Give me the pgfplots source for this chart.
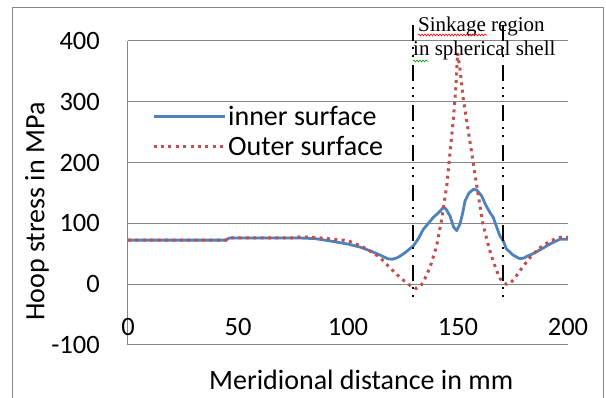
\documentclass[border=0pt]{standalone}
\usepackage{fontspec}
\setmainfont{Carlito}
\newfontfamily\seriffont{Liberation Serif}
\usepackage{pgfplots}
\pgfplotsset{compat=1.18}
\usetikzlibrary{decorations.pathmorphing}
\definecolor{exblue}{RGB}{79,129,189}
\definecolor{exred}{RGB}{192,80,77}
\definecolor{gridgray}{RGB}{134,134,134}
\begin{document}
\begin{tikzpicture}
\begin{axis}[
  scale only axis, width=440pt, height=304pt,
  xmin=0, xmax=200, ymin=-100, ymax=400,
  axis x line*=bottom, axis y line*=left,
  axis line style={gridgray, line width=1pt, -},
  ymajorgrids, grid style={gridgray, line width=1pt},
  xtick={0,50,100,150,200}, xticklabels={0,50,100,150,200},
  ytick={-100,0,100,200,300,400}, yticklabels={-100,0,100,200,300,400},
  major tick length=0pt,
  tick label style={font=\fontsize{26.5}{30}\selectfont, inner sep=0pt},
  xticklabel style={anchor=center, yshift=18.3pt},
  yticklabel style={anchor=east, xshift=-28pt},
  xlabel={Meridional distance in mm}, ylabel={Hoop stress in MPa},
  label style={font=\fontsize{28}{32}\selectfont},
  xlabel style={at={(axis description cs:0.53,-0.116)}, anchor=center},
  ylabel style={at={(axis description cs:-0.207,0.439)}, anchor=center},
  clip=false,
  legend style={at={(rel axis cs:0.0545,0.702)}, anchor=west, draw=none, fill=none,
    font=\fontsize{28}{32}\selectfont, inner sep=0pt, row sep=5pt},
  legend cell align=left,
  legend image code/.code={\draw[#1] (0pt,0pt) -- (71pt,0pt);},
]
\coordinate (ll) at (rel axis cs:0,0);
\addplot[exblue, line width=2.8pt, line join=round] coordinates {
(0,72.5) (44.5,72.5) (46,76) (78,76) (85,75) (92,71) (100,66) (105.5,61) (110,55)
(114.5,48) (118,42) (120,41) (122,43) (123.6,46) (126,52) (128,58) (129.7,63)
(132,75) (134.2,90) (136.5,100) (138.8,110) (141,117) (143.3,126) (144.5,124)
(146.4,112) (148,94) (149.4,88) (150.9,99) (152,115) (153.2,137) (155,150)
(157,156) (158.5,155) (160.8,145) (162.5,131) (164.5,118) (166,110) (168,90)
(169,80) (170.6,71) (172,58) (173.6,53) (175,48) (178,42) (180,43) (181.2,45.6)
(184,50) (186.5,55) (189,60) (191.8,66) (194,70) (196.4,74) (200,74)
};
\addlegendentry{inner surface}
\addplot[exred, line width=3pt, dash pattern=on 3pt off 4.4pt] coordinates {
(0,72.5) (44.5,72.5) (46,76) (76,76) (78,78) (85,77) (93,74) (97,73) (101,70)
(105,64) (108.5,58) (114.5,44) (119,27.5) (123.6,11) (128.2,-2) (131,-7)
(132.5,-5) (134.2,3) (137.3,28) (140.3,63) (142.6,107) (144.9,162) (146.4,217)
(147.9,272) (149.1,327) (149.8,380) (150.9,354) (152.4,305) (155.5,233)
(158.5,162) (161.3,100) (163,75) (164.5,55) (166,38) (167.6,22) (169,10)
(170.5,3) (172,0) (173.5,1) (175.2,7) (177,16) (179.7,30) (183.5,47) (187.3,60)
(191.8,71) (196.4,77) (200,77)
};
\addlegendentry{Outer surface}
\end{axis}
% vertical region markers
\draw[black, line width=1.5pt, dash pattern=on 16pt off 6pt on 2pt off 6.5pt on 2pt off 7.5pt]
  ([shift={(285pt,320pt)}]ll) -- ([shift={(285pt,48pt)}]ll);
\draw[black, line width=1.5pt, dash pattern=on 16pt off 6pt on 2pt off 6.5pt on 2pt off 7.5pt]
  ([shift={(375pt,320pt)}]ll) -- ([shift={(375pt,48pt)}]ll);
\node[anchor=base west, inner sep=0pt, font=\seriffont\fontsize{21}{25}\selectfont]
  at ([shift={(290pt,313.3pt)}]ll) {Sinkage region};
\node[anchor=base west, inner sep=0pt, font=\seriffont\fontsize{21}{25}\selectfont]
  at ([shift={(285pt,289pt)}]ll) {in spherical shell};
\draw[red, line width=0.6pt, decorate, decoration={snake, amplitude=1pt, segment length=3pt}]
  ([shift={(290pt,310pt)}]ll) -- ([shift={(359pt,310pt)}]ll);
\draw[green!60!black, line width=0.6pt, decorate, decoration={snake, amplitude=1pt, segment length=3pt}]
  ([shift={(285pt,284pt)}]ll) -- ([shift={(300pt,284pt)}]ll);
% outer frame
\draw[gridgray, line width=1pt] ([shift={(-115.7pt,-80pt)}]ll) -- ([shift={(-115.7pt,337.7pt)}]ll)
  -- ([shift={(475.3pt,337.7pt)}]ll) -- ([shift={(475.3pt,-80pt)}]ll);
\pgfresetboundingbox
\path[use as bounding box] ([shift={(-128pt,-53pt)}]ll) rectangle ([shift={(478pt,345pt)}]ll);
\end{tikzpicture}
\end{document}
